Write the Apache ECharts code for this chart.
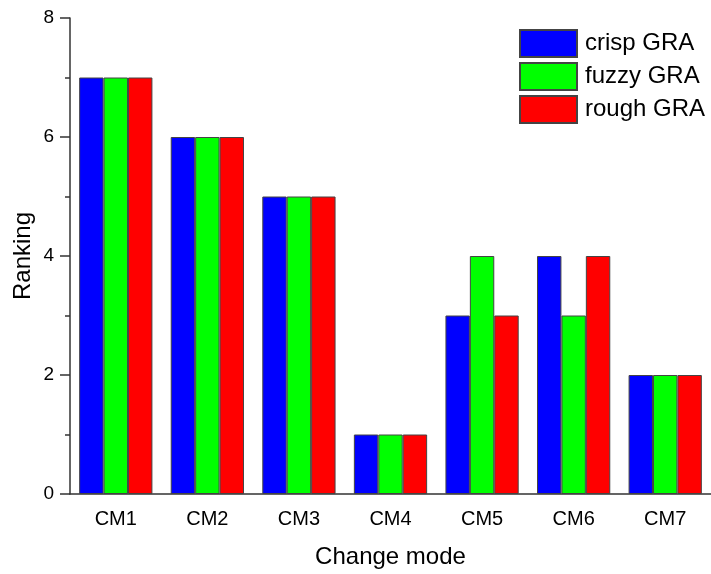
<!DOCTYPE html>
<html><head><meta charset="utf-8">
<script src="https://cdn.jsdelivr.net/npm/echarts@6/dist/echarts.min.js"></script>
<style>html,body{margin:0;padding:0;background:#fff}#c{width:711px;height:574px}</style>
</head><body><div id="c"></div>
<script>
const categories = ['CM1','CM2','CM3','CM4','CM5','CM6','CM7'];
const crispGRA = [7,6,5,1,3,4,2];
const fuzzyGRA = [7,6,5,1,4,3,2];
const roughGRA = [7,6,5,1,3,4,2];
const seriesNames = ['crisp GRA','fuzzy GRA','rough GRA'];
const seriesColors = ['#0000ff','#00ff00','#ff0000'];
const yTicks = [0,2,4,6,8];

const font = 'Liberation Sans, Arial, sans-serif';
const axisColor = '#333';
const chart = echarts.init(document.getElementById('c'));
const values = [crispGRA, fuzzyGRA, roughGRA];
chart.setOption({
  animation: false,
  textStyle: {fontFamily: font},
  grid: {left: 70, top: 18, bottom: 77, width: 644},
  legend: {
    orient: 'vertical', left: 514, top: 24,
    itemWidth: 57, itemHeight: 27, itemGap: 4,
    textStyle: {fontSize: 24, color: '#000', fontFamily: font, padding: [0,0,0,3]},
    icon: 'rect',
    data: seriesNames
  },
  xAxis: [{
    type: 'category', data: categories,
    name: 'Change mode', nameLocation: 'middle', nameGap: 51, nameMoveOverlap: false,
    nameTextStyle: {fontSize: 24, color: '#000', fontFamily: font},
    axisLine: {lineStyle: {color: axisColor, width: 1.5}},
    axisTick: {alignWithLabel: true, length: 10, lineStyle: {color: axisColor, width: 1.5}},
    axisLabel: {fontSize: 20, color: '#000', margin: 15, fontFamily: font}
  }, {
    type: 'category', data: categories, position: 'bottom',
    axisLine: {show: false},
    axisTick: {length: 5, lineStyle: {color: axisColor, width: 1.5}},
    axisLabel: {show: false}
  }],
  yAxis: {
    type: 'value', min: yTicks[0], max: yTicks[yTicks.length-1], interval: 2,
    name: 'Ranking', nameLocation: 'middle', nameGap: 35, nameMoveOverlap: false,
    nameTextStyle: {fontSize: 24, color: '#000', fontFamily: font},
    axisLine: {show: true, lineStyle: {color: axisColor, width: 1.5}},
    axisTick: {show: true, length: 10, lineStyle: {color: axisColor, width: 1.5}},
    minorTick: {show: true, splitNumber: 2, length: 5, lineStyle: {color: axisColor, width: 1.5}},
    splitLine: {show: false},
    axisLabel: {fontSize: 19, color: '#000', margin: 16, fontFamily: font}
  },
  series: values.map((v, i) => ({
    name: seriesNames[i], type: 'bar', data: v,
    xAxisIndex: 0,
    barGap: '0%', barCategoryGap: '20%',
    itemStyle: {color: seriesColors[i], borderColor: '#444', borderWidth: 1}
  }))
});
</script></body></html>
